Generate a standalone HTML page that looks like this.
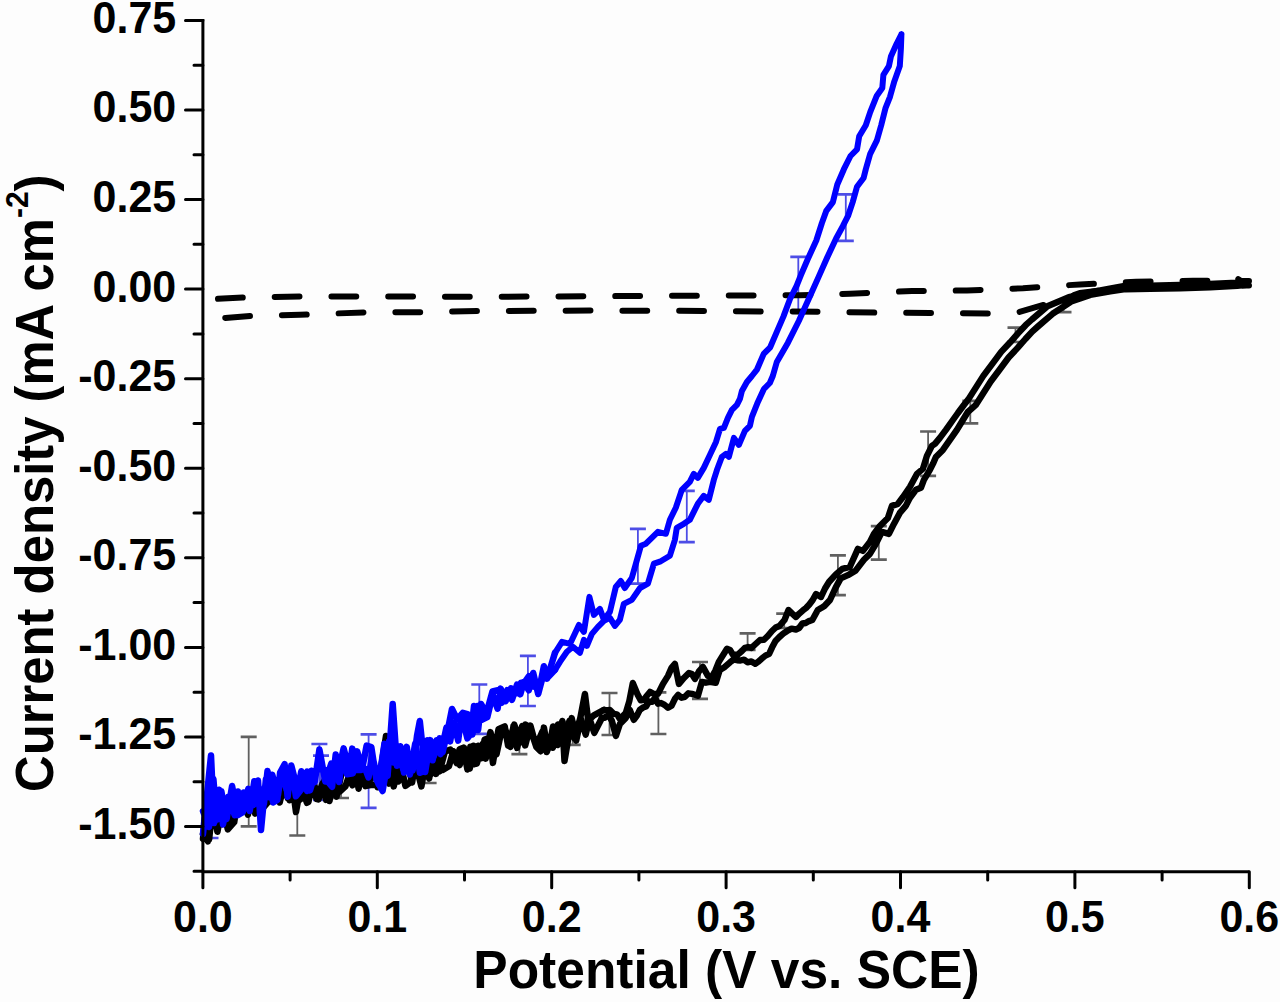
<!DOCTYPE html>
<html><head><meta charset="utf-8"><style>
html,body{margin:0;padding:0;background:#fdfdfd;width:1280px;height:1002px;overflow:hidden}
svg{display:block}
text{font-family:"Liberation Sans",sans-serif;font-weight:bold;fill:#000}
.tl{font-size:43px}
.ti{font-size:51.5px}
.ti2{font-size:50.8px}
.sup{font-size:30px}
</style></head><body>
<svg width="1280" height="1002" viewBox="0 0 1280 1002">
<rect width="1280" height="1002" fill="#fdfdfd"/>
<path d="M248.7,736.9V826.4M297.3,786.0V835.5M341.0,770.0V798.0M428.6,752.0V783.0M519.4,730.0V754.1M572.7,722.0V744.8M609.5,693.0V735.0M658.4,692.4V734.0M700.0,662.0V698.9M747.6,633.4V650.0M784.2,613.6V628.0M837.9,555.3V595.2M878.8,526.1V559.6M928.1,431.5V475.8M970.3,400.8V423.3M1015.5,327.6V342.0M1063.5,301.0V312.2" stroke="#606060" stroke-width="1.8" fill="none"/><path d="M240.7,736.9H256.7M240.7,826.4H256.7M289.3,786.0H305.3M289.3,835.5H305.3M333.0,770.0H349.0M333.0,798.0H349.0M420.6,752.0H436.6M420.6,783.0H436.6M511.4,730.0H527.4M511.4,754.1H527.4M564.7,722.0H580.7M564.7,744.8H580.7M601.5,693.0H617.5M601.5,735.0H617.5M650.4,692.4H666.4M650.4,734.0H666.4M692.0,662.0H708.0M692.0,698.9H708.0M739.6,633.4H755.6M739.6,650.0H755.6M776.2,613.6H792.2M776.2,628.0H792.2M829.9,555.3H845.9M829.9,595.2H845.9M870.8,526.1H886.8M870.8,559.6H886.8M920.1,431.5H936.1M920.1,475.8H936.1M962.3,400.8H978.3M962.3,423.3H978.3M1007.5,327.6H1023.5M1007.5,342.0H1023.5M1055.5,301.0H1071.5M1055.5,312.2H1071.5" stroke="#606060" stroke-width="2.7" fill="none"/>
<path d="M210.5,800.0V838.0M319.4,744.0V790.0M321.0,755.7V800.0M368.6,734.3V807.9M479.3,684.5V733.8M527.9,655.8V706.0M637.9,528.8V583.7M686.8,490.9V542.2M798.3,256.9V311.0M845.8,194.4V240.9" stroke="#4d4de6" stroke-width="1.8" fill="none"/><path d="M202.5,800.0H218.5M202.5,838.0H218.5M311.4,744.0H327.4M311.4,790.0H327.4M313.0,755.7H329.0M313.0,800.0H329.0M360.6,734.3H376.6M360.6,807.9H376.6M471.3,684.5H487.3M471.3,733.8H487.3M519.9,655.8H535.9M519.9,706.0H535.9M629.9,528.8H645.9M629.9,583.7H645.9M678.8,490.9H694.8M678.8,542.2H694.8M790.3,256.9H806.3M790.3,311.0H806.3M837.8,194.4H853.8M837.8,240.9H853.8" stroke="#4d4de6" stroke-width="2.7" fill="none"/>
<path d="M204.0,299.5 L243.0,297.5 L300.0,296.5 L500.0,296.7 L800.0,295.2 L850.0,293.7 L912.0,291.0 L967.0,290.5 L1023.0,288.2 L1080.0,284.4 L1136.0,281.8 L1193.0,280.8 L1234.0,281.0 L1237.5,278.5 L1241.0,281.0 L1249.0,281.0" stroke="#000" stroke-width="6.0" stroke-linecap="round" fill="none" stroke-dasharray="24.8 31.96" stroke-dashoffset="-14.00"/>
<path d="M204.0,319.5 L250.0,316.0 L300.0,314.8 L365.0,312.4 L420.0,312.2 L478.0,311.0 L535.0,310.8 L590.0,310.6 L650.0,310.7 L705.0,310.9 L762.0,311.5 L818.0,311.7 L875.0,312.6 L930.0,312.9 L990.0,313.6 L1018.0,312.3 L1044.0,304.8 L1080.0,293.0 L1125.0,287.5 L1249.0,285.5" stroke="#000" stroke-width="6.0" stroke-linecap="round" fill="none" stroke-dasharray="24.8 31.96" stroke-dashoffset="-21.30"/>
<path d="M203.0,834.3 L208.0,841.4 L212.7,805.4 L217.4,831.8 L222.4,805.1 L227.8,829.4 L234.2,822.2 L237.2,802.7 L242.6,801.3 L247.7,813.2 L252.4,795.0 L255.2,813.6 L258.2,791.0 L262.2,808.8 L267.7,802.3 L273.1,789.3 L279.2,800.4 L284.6,784.7 L289.6,800.2 L294.4,786.0 L297.5,801.2 L300.4,799.3 L303.7,782.1 L308.4,802.0 L313.2,781.1 L318.5,799.5 L324.7,780.1 L329.5,801.0 L333.7,776.3 L340.0,791.4 L345.4,786.4 L349.4,774.9 L352.3,774.2 L355.8,771.6 L358.6,788.8 L361.5,771.5 L365.4,786.1 L371.8,784.9 L378.0,784.4 L381.0,768.3 L386.0,736.0 L390.4,761.8 L393.7,786.4 L399.9,760.4 L405.4,785.9 L410.6,782.1 L414.2,761.9 L420.5,781.2 L425.0,766.0 L429.1,778.5 L433.0,760.7 L436.1,773.9 L439.7,757.0 L442.7,770.0 L448.9,766.3 L453.3,751.2 L459.7,765.0 L464.1,747.9 L469.8,768.5 L473.5,745.7 L476.8,763.6 L482.7,744.0 L485.7,758.6 L490.4,732.1 L496.5,754.4 L501.1,732.6 L505.3,729.4 L510.5,746.8 L513.5,726.0 L517.1,747.9 L522.2,726.0 L525.2,745.4 L530.4,725.6 L536.3,747.0 L540.6,751.3 L543.9,727.6 L546.9,745.1 L552.8,747.7 L558.0,724.5 L563.8,743.8 L569.5,720.7 L574.6,738.6 L580.3,718.0 L584.9,694.0 L588.2,720.5 L593.8,715.3 L603.9,709.9 M203.0,838.7 L206.2,804.5 L209.1,839.5 L212.4,808.1 L217.1,807.4 L221.9,824.2 L225.2,805.1 L230.8,825.2 L237.0,805.0 L242.3,798.9 L247.9,814.6 L252.9,795.3 L256.5,809.8 L261.5,792.7 L265.6,792.8 L270.4,801.1 L273.9,791.2 L279.7,802.4 L283.8,786.0 L287.8,798.3 L292.1,783.2 L296.0,812.0 L300.8,785.3 L307.0,802.8 L310.6,783.4 L316.6,798.9 L322.6,783.3 L326.0,799.9 L330.3,783.5 L336.6,796.6 L342.1,770.5 L346.9,772.3 L352.4,785.3 L357.0,773.1 L363.4,773.7 L368.5,784.2 L374.6,766.8 L377.7,787.3 L383.8,769.9 L389.2,783.6 L392.4,767.5 L398.4,781.4 L402.6,763.8 L408.2,764.8 L412.1,782.5 L415.3,762.5 L421.4,786.4 L426.0,761.1 L430.5,774.7 L436.0,758.6 L439.5,771.4 L445.0,751.5 L450.4,749.6 L456.7,763.0 L459.6,749.2 L463.4,747.7 L467.4,769.5 L470.4,746.8 L474.1,764.3 L478.1,745.8 L481.6,758.1 L484.6,739.6 L489.7,737.9 L492.9,762.9 L498.5,729.3 L504.7,726.4 L508.1,745.6 L514.3,724.7 L520.4,742.5 L525.5,724.6 L530.0,728.0 L536.1,746.1 L542.4,731.5 L546.7,752.0 L550.1,743.3 L553.0,726.5 L557.7,745.0 L562.3,721.0 L564.5,761.0 L571.7,718.1 L576.2,740.6 L580.9,718.6 L585.7,734.6 L589.5,718.7 L594.3,732.8 L601.9,717.9" stroke="#000" stroke-width="6.5" stroke-linejoin="round" stroke-linecap="round" fill="none"/>
<path d="M603.9,709.9 L606.9,710.5 L609.9,709.9 L613.9,713.9 L616.9,714.3 L619.9,718.9 L625.8,712.9 L629.3,701.2 L632.8,683.0 L637.8,694.9 L640.8,700.4 L643.8,699.9 L646.9,695.7 L650.0,691.9 L654.0,694.0 L658.0,693.9 L663.0,683.9 L668.0,675.9 L671.5,667.9 L674.9,663.9 L678.9,683.9 L683.9,677.9 L688.9,672.9 L691.9,674.0 L694.9,678.9 L698.9,671.4 L702.9,666.9 L707.9,675.9 L711.9,676.9 L715.3,670.7 L718.8,661.9 L727.0,648.8 L730.0,649.9 L733.0,654.8 L737.5,654.8 L741.9,651.0 L745.0,647.8 L748.2,647.0 L751.4,648.0 L754.5,645.0 L760.0,640.0 L763.9,639.8 L767.8,636.0 L772.0,631.0 L775.7,627.5 L779.4,626.0 L784.5,620.0 L788.5,610.0 L792.2,613.6 L796.0,617.0 L799.3,613.6 L802.7,610.6 L806.0,608.0 L809.3,604.5 L812.7,600.0 L816.0,594.0 L821.0,597.0 L825.0,588.5 L829.0,582.0 L835.9,574.4 L842.3,568.8 L849.9,566.8 L857.9,548.9 L862.9,550.9 L869.9,541.9 L873.9,533.9 L879.9,525.9 L887.9,517.9 L891.9,505.9 L897.8,503.9 L903.0,497.0 L910.0,486.8 L916.9,473.9 L922.9,468.9 L926.9,455.9 L931.9,445.9 L934.9,443.9 L939.9,437.9 L945.9,429.9 L952.9,420.0 L957.9,413.0 L963.9,405.0 L968.2,399.6 L983.3,375.9 L992.3,363.9 L1001.2,351.9 L1010.2,342.3 L1018.0,333.4 L1025.6,325.2 L1031.9,319.5 L1047.4,306.2 L1068.8,297.2 L1089.7,292.5 L1109.7,288.6 L1124.7,286.0 L1149.7,285.6 L1179.7,285.0 L1209.7,284.0 L1236.7,282.6 L1245.7,281.6 M601.9,717.9 L604.9,717.7 L607.9,713.9 L611.9,720.9 L615.9,735.9 L619.9,723.9 L625.8,717.9 L629.8,709.9 L633.8,719.9 L636.8,715.9 L639.8,709.9 L642.9,707.6 L646.0,706.5 L649.0,701.5 L652.0,701.9 L655.0,697.8 L658.0,703.7 L661.0,703.0 L664.5,704.9 L668.0,707.8 L671.5,705.8 L674.9,698.8 L678.2,694.9 L681.6,697.7 L684.9,696.8 L688.4,693.3 L691.9,693.9 L694.9,694.8 L697.9,695.8 L701.9,681.9 L705.9,682.7 L709.9,681.9 L715.8,682.9 L719.8,669.9 L724.8,666.9 L730.0,662.3 L733.5,659.6 L737.0,660.2 L740.5,660.5 L744.0,659.6 L747.5,662.3 L751.4,661.4 L755.2,663.7 L758.4,661.6 L761.5,658.8 L765.4,655.6 L769.2,653.8 L772.0,647.6 L775.5,641.0 L779.4,637.0 L783.2,633.6 L787.1,631.0 L791.5,628.7 L795.9,629.5 L799.1,628.0 L802.4,623.5 L805.7,623.0 L809.0,621.1 L812.3,620.0 L817.8,610.0 L821.1,608.1 L824.4,606.0 L830.0,600.0 L835.9,587.1 L840.7,578.4 L847.9,575.2 L855.8,570.4 L863.9,559.8 L869.9,553.9 L875.9,543.9 L881.9,531.9 L888.9,533.9 L893.9,523.9 L899.8,512.9 L905.8,505.9 L909.8,498.0 L915.9,489.8 L920.9,487.8 L923.9,479.8 L929.9,469.9 L932.9,463.9 L935.9,456.9 L942.9,449.9 L949.9,439.9 L956.9,429.9 L962.9,420.0 L967.8,412.0 L975.6,405.2 L990.7,381.5 L999.7,369.5 L1008.6,357.5 L1017.6,347.9 L1025.4,339.0 L1032.2,331.6 L1037.9,326.5 L1052.6,313.8 L1071.2,301.6 L1090.3,294.9 L1110.3,291.4 L1125.3,289.2 L1150.3,288.8 L1180.3,288.2 L1210.3,287.2 L1237.3,285.8 L1246.3,284.8" stroke="#000" stroke-width="6.4" stroke-linejoin="round" stroke-linecap="round" fill="none"/>
<path d="M203.0,833.8 L211.0,755.5 L214.1,822.9 L219.2,789.8 L223.0,824.5 L228.3,796.8 L234.7,815.2 L238.0,791.4 L241.0,811.3 L243.8,792.5 L249.7,811.0 L254.3,781.3 L258.1,785.1 L263.9,804.1 L267.5,771.1 L273.1,802.5 L277.3,800.0 L280.1,772.5 L284.6,764.2 L287.6,796.8 L291.3,765.6 L297.7,790.2 L301.3,771.3 L307.0,790.8 L311.4,770.7 L314.7,782.2 L319.4,749.5 L325.3,781.5 L331.3,763.5 L337.2,777.4 L343.6,748.4 L349.2,769.4 L352.3,748.6 L355.9,770.0 L360.3,770.1 L365.2,768.7 L368.5,777.4 L372.2,754.8 L378.4,784.0 L384.4,743.9 L387.6,776.0 L392.7,704.0 L397.0,765.8 L400.4,746.3 L404.0,772.5 L409.0,755.0 L412.6,770.7 L417.0,735.9 L419.8,721.0 L425.2,772.0 L430.3,740.1 L433.6,756.9 L439.7,738.3 L442.6,752.2 L448.0,729.0 L452.0,709.0 L457.1,719.3 L462.8,712.8 L468.1,714.4 L472.4,734.5 L477.2,706.0 L482.2,719.7 L487.3,717.2 L492.7,694.7 L497.6,708.7 L500.7,688.6 L505.6,701.2 L511.0,688.3 L517.1,693.0 L521.0,682.7 L524.4,682.7 L528.8,676.3 L534.0,686.8 L539.7,686.9 L543.9,666.2 L547.1,678.6 L555.0,652.8 M203.0,811.2 L209.0,826.9 L213.4,779.0 L216.8,819.7 L221.3,791.2 L226.6,819.0 L232.1,786.0 L237.7,815.1 L242.8,812.1 L248.3,788.8 L253.5,805.0 L258.0,780.5 L261.0,830.0 L265.9,779.2 L269.3,797.3 L272.2,774.7 L278.0,794.9 L281.8,769.8 L286.6,789.9 L292.3,771.3 L295.9,796.2 L300.8,790.0 L307.2,771.5 L310.0,790.4 L316.4,769.3 L321.1,769.2 L325.2,770.0 L328.6,782.4 L332.1,786.7 L335.7,754.5 L339.1,781.9 L342.7,754.2 L347.1,774.3 L352.9,773.2 L357.2,751.4 L362.3,768.2 L366.6,745.6 L371.3,747.1 L376.4,779.6 L382.6,791.0 L385.3,775.2 L388.9,741.5 L393.3,762.4 L397.5,746.1 L403.4,770.2 L406.8,746.9 L409.9,774.5 L415.2,743.6 L419.9,772.7 L423.0,771.4 L427.6,740.4 L432.6,760.3 L436.6,740.2 L440.6,754.1 L446.4,727.6 L450.1,741.4 L453.6,722.6 L458.2,740.7 L461.5,714.4 L467.4,738.4 L471.0,733.6 L474.0,706.1 L478.1,730.0 L481.1,704.0 L486.4,713.5 L492.5,691.4 L498.9,689.9 L501.7,702.8 L507.2,690.2 L512.0,699.8 L517.0,684.7 L520.3,694.3 L523.8,682.1 L528.8,690.3 L533.2,673.0 L538.2,694.0 L544.7,669.3 L547.9,677.4 L555.0,669.8" stroke="#0000ff" stroke-width="6.5" stroke-linejoin="round" stroke-linecap="round" fill="none"/>
<path d="M555.0,652.8 L562.0,641.9 L570.0,643.9 L578.9,624.9 L583.9,631.9 L589.4,596.9 L593.9,614.9 L599.9,608.9 L603.9,619.9 L609.9,611.9 L615.8,587.0 L620.8,581.0 L624.8,588.0 L631.8,578.0 L635.9,563.7 L640.9,545.7 L645.9,543.7 L657.9,531.8 L665.9,533.8 L669.9,519.8 L675.8,507.8 L681.8,489.9 L689.8,481.9 L693.8,473.9 L697.8,477.9 L703.8,467.9 L710.0,454.8 L716.0,441.9 L720.0,428.9 L723.9,427.9 L727.9,417.9 L731.9,409.9 L736.9,404.9 L739.9,398.9 L741.9,391.0 L746.9,382.0 L751.9,376.0 L757.1,369.3 L763.7,353.9 L770.2,347.3 L776.8,331.9 L783.4,316.6 L790.0,299.0 L796.6,285.8 L801.0,274.9 L807.6,259.5 L816.3,240.5 L821.9,223.0 L826.3,210.9 L832.9,202.1 L837.3,184.5 L843.9,169.2 L850.5,156.0 L857.0,149.4 L859.2,136.3 L865.8,125.3 L870.2,112.1 L876.8,95.7 L882.3,88.0 L883.4,74.8 L888.9,66.1 L891.0,56.2 L896.5,44.1 L901.4,34.3 M555.0,669.8 L560.0,661.8 L566.9,651.8 L572.9,646.8 L579.9,652.8 L583.9,639.9 L586.9,645.8 L591.9,633.9 L597.9,626.9 L603.9,620.9 L609.9,617.9 L614.9,625.9 L619.8,619.9 L623.8,603.9 L631.8,599.9 L640.0,588.0 L647.9,583.7 L653.9,563.7 L659.9,561.7 L669.9,555.7 L674.9,539.8 L676.8,527.8 L683.8,523.8 L689.8,519.8 L697.8,503.8 L703.8,495.8 L708.8,499.8 L713.8,479.9 L717.0,469.8 L721.9,456.8 L725.9,453.8 L728.9,456.8 L733.9,437.9 L738.9,444.9 L744.9,430.9 L749.9,425.9 L751.9,416.9 L757.9,401.9 L763.9,389.0 L769.8,383.0 L772.8,376.0 L776.8,362.0 L787.8,342.9 L798.8,321.0 L809.7,296.8 L818.5,277.1 L827.3,257.3 L836.1,238.5 L842.8,226.2 L848.3,215.3 L852.7,202.1 L857.0,186.7 L863.6,178.0 L865.8,169.2 L870.2,153.8 L876.8,140.7 L881.2,125.3 L885.6,107.8 L890.0,96.8 L894.3,81.4 L899.8,66.1 L900.9,48.5 L901.4,34.3" stroke="#0000ff" stroke-width="6.0" stroke-linejoin="round" stroke-linecap="round" fill="none"/>
<path d="M202.9,19 V871.7 H1249.3" fill="none" stroke="#000" stroke-width="3" stroke-linejoin="round"/><path d="M185.5,20.4H202.9M185.5,110.0H202.9M185.5,199.5H202.9M185.5,289.1H202.9M185.5,378.7H202.9M185.5,468.2H202.9M185.5,557.8H202.9M185.5,647.4H202.9M185.5,737.0H202.9M185.5,826.6H202.9M194,65.2H202.9M194,154.7H202.9M194,244.3H202.9M194,333.9H202.9M194,423.5H202.9M194,513.0H202.9M194,602.6H202.9M194,692.2H202.9M194,781.8H202.9M194,871.3H202.9M202.9,871.7V887.7M377.3,871.7V887.7M551.7,871.7V887.7M726.1,871.7V887.7M900.5,871.7V887.7M1074.9,871.7V887.7M1249.3,871.7V887.7M290.1,871.7V880M464.5,871.7V880M638.9,871.7V880M813.3,871.7V880M987.7,871.7V880M1162.1,871.7V880" fill="none" stroke="#000" stroke-width="3" stroke-linecap="round"/><text transform="translate(176.2,32.8) scale(1,1.045)" text-anchor="end" class="tl">0.75</text><text transform="translate(176.2,122.4) scale(1,1.045)" text-anchor="end" class="tl">0.50</text><text transform="translate(176.2,211.9) scale(1,1.045)" text-anchor="end" class="tl">0.25</text><text transform="translate(176.2,301.5) scale(1,1.045)" text-anchor="end" class="tl">0.00</text><text transform="translate(176.2,391.1) scale(1,1.045)" text-anchor="end" class="tl">-0.25</text><text transform="translate(176.2,480.6) scale(1,1.045)" text-anchor="end" class="tl">-0.50</text><text transform="translate(176.2,570.2) scale(1,1.045)" text-anchor="end" class="tl">-0.75</text><text transform="translate(176.2,659.8) scale(1,1.045)" text-anchor="end" class="tl">-1.00</text><text transform="translate(176.2,749.4) scale(1,1.045)" text-anchor="end" class="tl">-1.25</text><text transform="translate(176.2,839.0) scale(1,1.045)" text-anchor="end" class="tl">-1.50</text><text transform="translate(202.9,932.2) scale(1,1.045)" text-anchor="middle" class="tl">0.0</text><text transform="translate(377.3,932.2) scale(1,1.045)" text-anchor="middle" class="tl">0.1</text><text transform="translate(551.7,932.2) scale(1,1.045)" text-anchor="middle" class="tl">0.2</text><text transform="translate(726.1,932.2) scale(1,1.045)" text-anchor="middle" class="tl">0.3</text><text transform="translate(900.5,932.2) scale(1,1.045)" text-anchor="middle" class="tl">0.4</text><text transform="translate(1074.9,932.2) scale(1,1.045)" text-anchor="middle" class="tl">0.5</text><text transform="translate(1249.3,932.2) scale(1,1.045)" text-anchor="middle" class="tl">0.6</text><text transform="translate(726.5,987.8) scale(1,1.035)" text-anchor="middle" class="ti">Potential (V vs. SCE)</text><text transform="translate(53,483.2) rotate(-90) scale(1,1.04)" text-anchor="middle" class="ti2">Current density (mA cm<tspan class="sup" dy="-24.5">-2</tspan><tspan dy="24.5">)</tspan></text>
</svg>
</body></html>
